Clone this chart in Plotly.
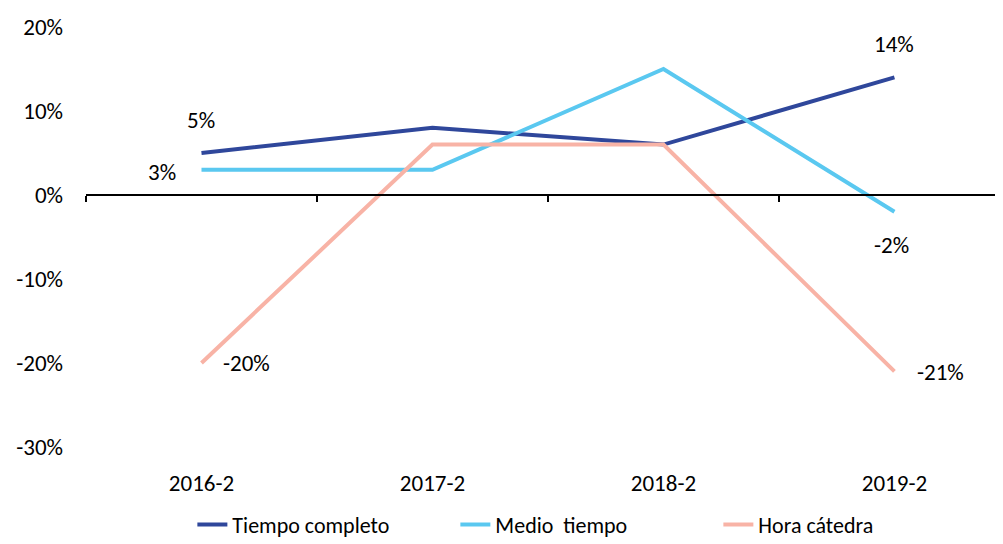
import plotly.graph_objects as go

categories = ["2016-2", "2017-2", "2018-2", "2019-2"]
tiempo_completo = [0.05, 0.08, 0.06, 0.14]
medio_tiempo = [0.03, 0.03, 0.15, -0.02]
hora_catedra = [-0.20, 0.06, 0.06, -0.21]
y_ticks = [0.2, 0.1, 0.0, -0.1, -0.2, -0.3]
y_tick_labels = ["20%", "10%", "0%", "-10%", "-20%", "-30%"]

FONT = "Carlito, Lato, sans-serif"
FS = 23

series = [
    ("Tiempo completo", tiempo_completo, "#2F479B"),
    ("Medio  tiempo", medio_tiempo, "#5AC8F0"),
    ("Hora cátedra", hora_catedra, "#F8B3A6"),
]

fig = go.Figure()
for name, vals, color in series:
    fig.add_trace(go.Scatter(x=categories, y=vals, mode="lines", name=name,
                             line=dict(color=color, width=4),
                             hoverinfo="skip"))

# data labels: (series values, index, xshift, yshift)
label_specs = [
    (tiempo_completo, 0, 0, 33),
    (medio_tiempo, 0, -39, -2),
    (hora_catedra, 0, 45, 0),
    (tiempo_completo, 3, 0, 33),
    (medio_tiempo, 3, -3, -33),
    (hora_catedra, 3, 46, -1),
]
for vals, i, xs, ys in label_specs:
    fig.add_annotation(x=categories[i], y=vals[i], xref="x", yref="y",
                       text=f"{round(vals[i]*100):d}%", showarrow=False,
                       xshift=xs, yshift=ys,
                       font=dict(family=FONT, size=FS, color="#000000"))

# page body has an 8px margin: compensate so the plot lands where intended
fig.update_layout(
    width=995, height=536,
    margin=dict(l=78, r=0, t=19, b=97, autoexpand=False),
    paper_bgcolor="white", plot_bgcolor="white",
    font=dict(family=FONT, size=FS, color="#000000"),
    showlegend=True,
    legend=dict(orientation="h", x=0.116, xanchor="left", y=-0.185, yanchor="middle",
                font=dict(family=FONT, size=22, color="#000000"),
                entrywidth=218, entrywidthmode="pixels"),
    xaxis=dict(type="category", categoryarray=categories, range=[-0.5, 3.47],
               showline=False, showgrid=False, zeroline=False, ticks="",
               ticklabelstandoff=20, tickfont=dict(size=FS)),
    xaxis2=dict(type="category", categoryarray=categories, matches="x",
                overlaying="x", anchor="free", position=0.6,
                showline=True, linecolor="#000000", linewidth=2,
                ticks="outside", tickson="boundaries", ticklen=6, tickwidth=2,
                tickcolor="#000000", showticklabels=False, showgrid=False,
                zeroline=False),
    yaxis=dict(range=[-0.3, 0.2], tickvals=y_ticks, ticktext=y_tick_labels,
               showgrid=False, zeroline=False, showline=False, ticks="",
               ticklabelstandoff=22, tickfont=dict(size=FS)),
)
# invisible trace to activate xaxis2
fig.add_trace(go.Scatter(x=categories, y=[None]*4, xaxis="x2", yaxis="y",
                         showlegend=False, hoverinfo="skip", mode="lines"))

fig.write_html("out.html")
